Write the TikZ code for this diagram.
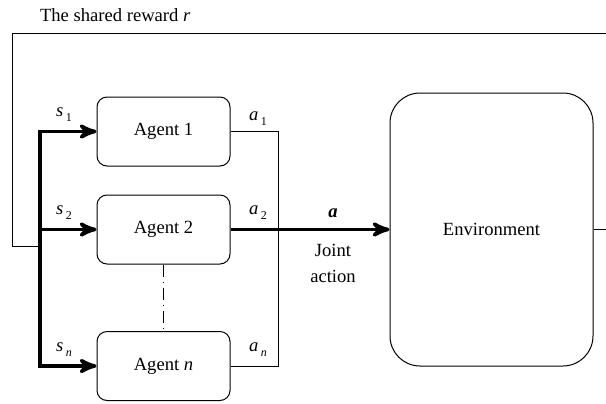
\documentclass[tikz,border=0pt]{standalone}
\usepackage{fontspec}
\setmainfont{Liberation Serif}
\usetikzlibrary{positioning, arrows}
\newcommand{\lsub}[2]{\textit{#1}\raisebox{-2.5pt}{\kern1.2pt\fontsize{6}{6}\selectfont #2}}

\begin{document}
\begin{tikzpicture}[x=0.5pt, y=-0.5pt, >=stealth', font=\fontsize{9.3}{11}\selectfont,
agent/.style={draw, line width=0.5pt, rounded corners=5pt, minimum width=66.5pt, minimum height=34.5pt, inner sep=0pt},
thick line/.style={line width=1.8pt}, thin line/.style={line width=0.5pt}]
\useasboundingbox (0,0) rectangle (606,403);
\node[anchor=west] at (33,15) (title) {The shared reward \textit{r}};
\node[agent] at (163.5,131.5) (agent1) {Agent 1};
\node[agent] at (163.5,229.5) (agent2) {Agent 2};
\node[agent] at (163.5,366) (agentn) {Agent \textit{n}};
\node[draw, line width=0.5pt, rounded corners=15pt, minimum width=101.5pt, minimum height=136.5pt] at (491.5,229.5) (env) {Environment};
\coordinate (s1) at (40,131.5);
\coordinate (s2) at (40,229.5);
\coordinate (sn) at (40,366);
\coordinate (fb) at (40,246);
\coordinate (a1) at (278,131.5);
\coordinate (an) at (278,366);
% inputs
\draw[thick line,<->] (agent1) -- (s1) -- (sn) -- (agentn);
\draw[thick line,->] (s2) -- (agent2);
% outputs
\draw[thin line] (agent1) -- (a1) -- (an) -- (agentn);
\draw[thick line,->] (agent2) -- (env);
\draw[thin line, dash pattern=on 6pt off 2.5pt on 0.6pt off 2.5pt] (agent2) -- (agentn);
% reward loop
\draw[thin line] (fb) -- (12,246) -- (12,33) -- (607,33) -- (607,229.5) -- (env);
\node at (64,115) {\lsub{s}{1}};
\node at (64,213) {\lsub{s}{2}};
\node at (64,350) {\lsub{s}{\textit{n}}};
\node at (258,119) {\lsub{a}{1}};
\node at (258,213) {\lsub{a}{2}};
\node at (258,350) {\lsub{a}{\textit{n}}};
\node at (333,213) {\textbf{\textit{a}}};
\node[align=center] at (333,263) {Joint\\[2pt]action};
\end{tikzpicture}
\end{document}
